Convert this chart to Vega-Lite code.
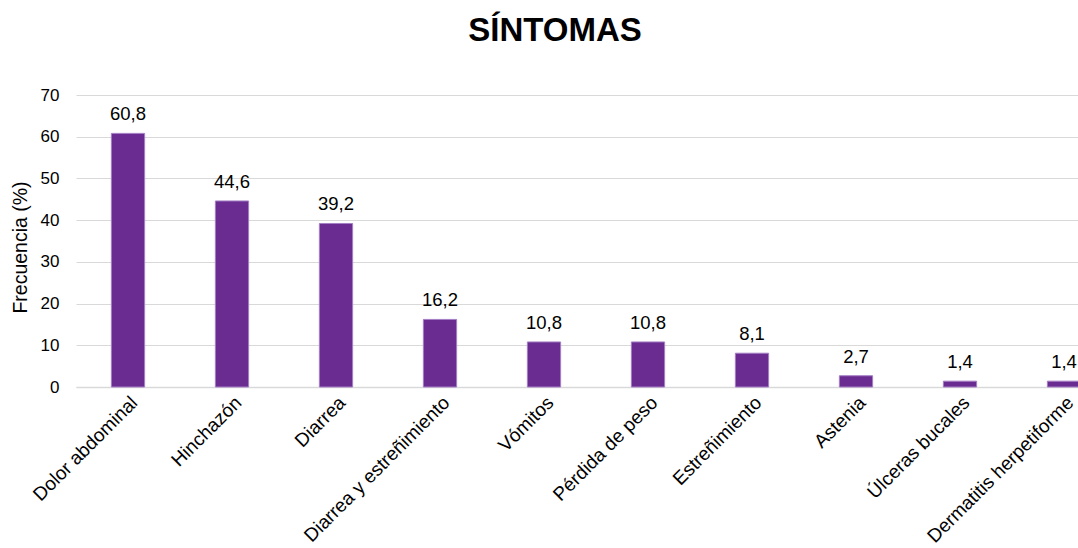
{
  "$schema": "https://vega.github.io/schema/vega-lite/v6.json",
  "autosize": {"type": "none"},
  "width": 1002,
  "height": 292,
  "padding": {"left": 76, "top": 95, "right": 0, "bottom": 161},
  "background": "white",
  "config": {
    "locale": {"number": {"decimal": ",", "thousands": ".", "grouping": [3], "currency": ["", " €"]}},
    "font": "Liberation Sans",
    "view": {"stroke": null}
  },
  "title": {
    "text": "SÍNTOMAS",
    "fontSize": 33,
    "fontWeight": "bold",
    "font": "Liberation Sans",
    "color": "#000000",
    "anchor": "middle",
    "dx": -22,
    "offset": 38
  },
  "data": {
    "values": [
      {"sintoma": "Dolor abdominal", "frecuencia": 60.8},
      {"sintoma": "Hinchazón", "frecuencia": 44.6},
      {"sintoma": "Diarrea", "frecuencia": 39.2},
      {"sintoma": "Diarrea y estreñimiento", "frecuencia": 16.2},
      {"sintoma": "Vómitos", "frecuencia": 10.8},
      {"sintoma": "Pérdida de peso", "frecuencia": 10.8},
      {"sintoma": "Estreñimiento", "frecuencia": 8.1},
      {"sintoma": "Astenia", "frecuencia": 2.7},
      {"sintoma": "Úlceras bucales", "frecuencia": 1.4},
      {"sintoma": "Dermatitis herpetiforme", "frecuencia": 1.4}
    ]
  },
  "encoding": {
    "x": {
      "field": "sintoma",
      "type": "nominal",
      "sort": null,
      "scale": {"range": [0, 1040], "paddingInner": 0.68, "paddingOuter": 0.34},
      "axis": {
        "title": null,
        "labelAngle": -45,
        "labelAlign": "right",
        "labelBaseline": "top",
        "labelFontSize": 19,
        "labelColor": "#000000",
        "labelPadding": 6,
        "ticks": false,
        "domainColor": "#d9d9d9",
        "domainWidth": 1.5,
        "labelOverlap": false,
        "labelLimit": 0
      }
    },
    "y": {
      "field": "frecuencia",
      "type": "quantitative",
      "scale": {"domain": [0, 70]},
      "axis": {
        "title": "Frecuencia (%)",
        "titleFontSize": 19.5,
        "titleFontWeight": "normal",
        "titleColor": "#000000",
        "titlePadding": 10,
        "titleY": 152,
        "values": [0, 10, 20, 30, 40, 50, 60, 70],
        "labelFontSize": 17,
        "labelColor": "#000000",
        "labelPadding": 17,
        "ticks": false,
        "domain": false,
        "gridColor": "#d9d9d9",
        "gridWidth": 1
      }
    }
  },
  "layer": [
    {
      "mark": {"type": "bar", "color": "#6a2c91", "stroke": "#a47fc4", "strokeWidth": 1}
    },
    {
      "mark": {"type": "text", "dy": -9, "baseline": "bottom", "fontSize": 18.5, "color": "#000000"},
      "encoding": {
        "text": {"field": "frecuencia", "type": "quantitative", "format": ".1f"}
      }
    }
  ]
}
